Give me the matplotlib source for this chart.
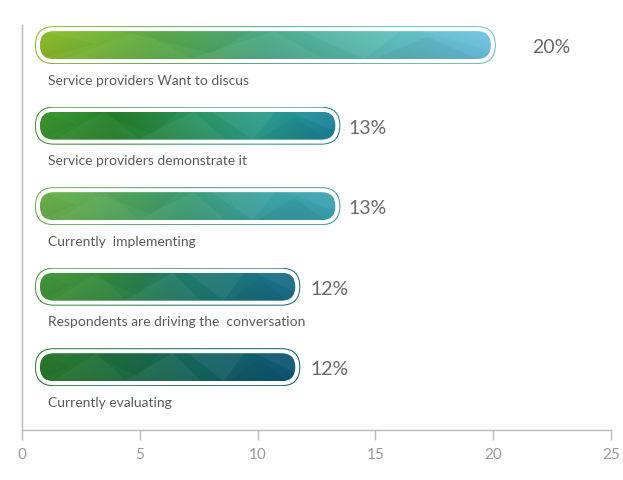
import numpy as np
import matplotlib
matplotlib.use("Agg")
import matplotlib.pyplot as plt
from matplotlib.patches import FancyBboxPatch, Polygon
from matplotlib.colors import to_rgb

# ---------------- data ----------------
categories = [
    "Service providers Want to discus",
    "Service providers demonstrate it",
    "Currently  implementing",
    "Respondents are driving the  conversation",
    "Currently evaluating",
]
values = [19.9, 13.3, 13.3, 11.6, 11.6]
pct_labels = ["20%", "13%", "13%", "12%", "12%"]
xticks = [0, 5, 10, 15, 20, 25]

# ---------------- style ----------------
gradients = [
    ["#8fbc2c", "#5cab45", "#48a784", "#5ab9b4", "#6bbde0"],
    ["#3c9532", "#267f2a", "#2a915a", "#2a9a8a", "#1a7f98"],
    ["#6cb04c", "#55a65a", "#3a9a72", "#3aa0a0", "#3aa0b0"],
    ["#44963a", "#33893f", "#217a60", "#1a7478", "#1a6a8a"],
    ["#2a7a2c", "#21703c", "#176654", "#125e66", "#0e5676"],
]
label_offsets = [1.75, 0.55, 0.55, 0.65, 0.65]
font = "Lato"
plt.rcParams["font.family"] = [font, "DejaVu Sans"]

W, H = 623, 481
fig = plt.figure(figsize=(W / 100, H / 100), dpi=100)
ax = fig.add_axes([22 / W, 50 / H, 589 / W, 405 / H])
ax.set_xlim(0, 25)
ax.set_ylim(-0.78, 4.25)
px_x = 589 / 25.0
px_y = 405 / (4.25 + 0.78)

x_start = 0.76
fill_h_px = 28.0

# deterministic facet shapes (u along bar 0..1, v across 0..1) for low-poly look
facets = [
    ([(0.05, 0), (0.22, 1), (0.34, 0)], "w", 0.04),
    ([(0.18, 1), (0.38, 0.2), (0.47, 1)], "k", 0.04),
    ([(0.33, 0), (0.52, 1), (0.63, 0)], "w", 0.05),
    ([(0.58, 1), (0.72, 0), (0.8, 1)], "w", 0.06),
    ([(0.74, 0), (0.86, 0.8), (0.97, 0)], "k", 0.04),
    ([(0.0, 0.0), (0.12, 0.55), (0.0, 1.0)], "k", 0.03),
    ([(0.84, 1), (1.0, 0.3), (1.0, 1)], "w", 0.05),
]


def rpatch(x0, x1, yc, half_px, **kw):
    left = x0 - (half_px - fill_h_px / 2) / px_x
    right = x1 + (half_px - fill_h_px / 2) / px_x
    hh = half_px / px_y
    p = FancyBboxPatch(
        (left, yc - hh), right - left, 2 * hh,
        boxstyle=f"round,pad=0,rounding_size={half_px / px_x * 0.999}",
        mutation_aspect=px_x / px_y, transform=ax.transData, **kw)
    return p, (left, right, yc - hh, yc + hh)


def gradient_img(cols, n=256):
    cols = np.array([to_rgb(c) for c in cols])
    pos = np.linspace(0, 1, len(cols))
    u = np.linspace(0, 1, n)
    rgb = np.stack([np.interp(u, pos, cols[:, k]) for k in range(3)], axis=-1)
    v = np.linspace(1.03, 0.95, 16)[:, None, None]
    img = np.clip(rgb[None, :, :] * v, 0, 1)
    return img


for i, (cat, val, lab) in enumerate(zip(categories, values, pct_labels)):
    yc = len(categories) - 1 - i
    img = gradient_img(gradients[i])
    # outer ring
    outer, ext = rpatch(x_start, val, yc, fill_h_px / 2 + 5.0, facecolor="none", edgecolor="none")
    ax.add_patch(outer)
    im = ax.imshow(img, extent=ext, aspect="auto", interpolation="bilinear", zorder=2)
    im.set_clip_path(outer)
    # white gap
    gap, _ = rpatch(x_start, val, yc, fill_h_px / 2 + 4.0, facecolor="white", edgecolor="none", zorder=3)
    ax.add_patch(gap)
    # inner fill
    inner, ext2 = rpatch(x_start, val, yc, fill_h_px / 2, facecolor="none", edgecolor="none", zorder=4)
    ax.add_patch(inner)
    im2 = ax.imshow(img, extent=ext2, aspect="auto", interpolation="bilinear", zorder=4)
    im2.set_clip_path(inner)
    l, r, b, t = ext2
    for pts, c, a in facets:
        poly = Polygon([(l + u * (r - l), b + v * (t - b)) for u, v in pts],
                       closed=True, facecolor=c, alpha=a, edgecolor="none", zorder=5)
        ax.add_patch(poly)
        poly.set_clip_path(inner)
    # texts
    ax.text(1.1, yc - 0.43, cat, ha="left", va="center", fontsize=10,
            color="#5a5a5a")
    ax.text(val + label_offsets[i], yc - 0.02, lab, ha="left", va="center", fontsize=14,
            color="#6a6a6a")

for s in ["top", "right"]:
    ax.spines[s].set_visible(False)
for s in ["left", "bottom"]:
    ax.spines[s].set_color("#bbbbbb")
    ax.spines[s].set_linewidth(1)
ax.set_yticks([])
ax.set_xticks(xticks)
ax.set_xticklabels([str(t) for t in xticks])
ax.tick_params(axis="x", length=7, width=1, color="#bbbbbb", labelcolor="#9a9a9a",
               labelsize=11, pad=5)
ax.set_xlim(0, 25)
ax.set_ylim(-0.78, 4.25)

fig.savefig("out.png", dpi=100, facecolor="white")
